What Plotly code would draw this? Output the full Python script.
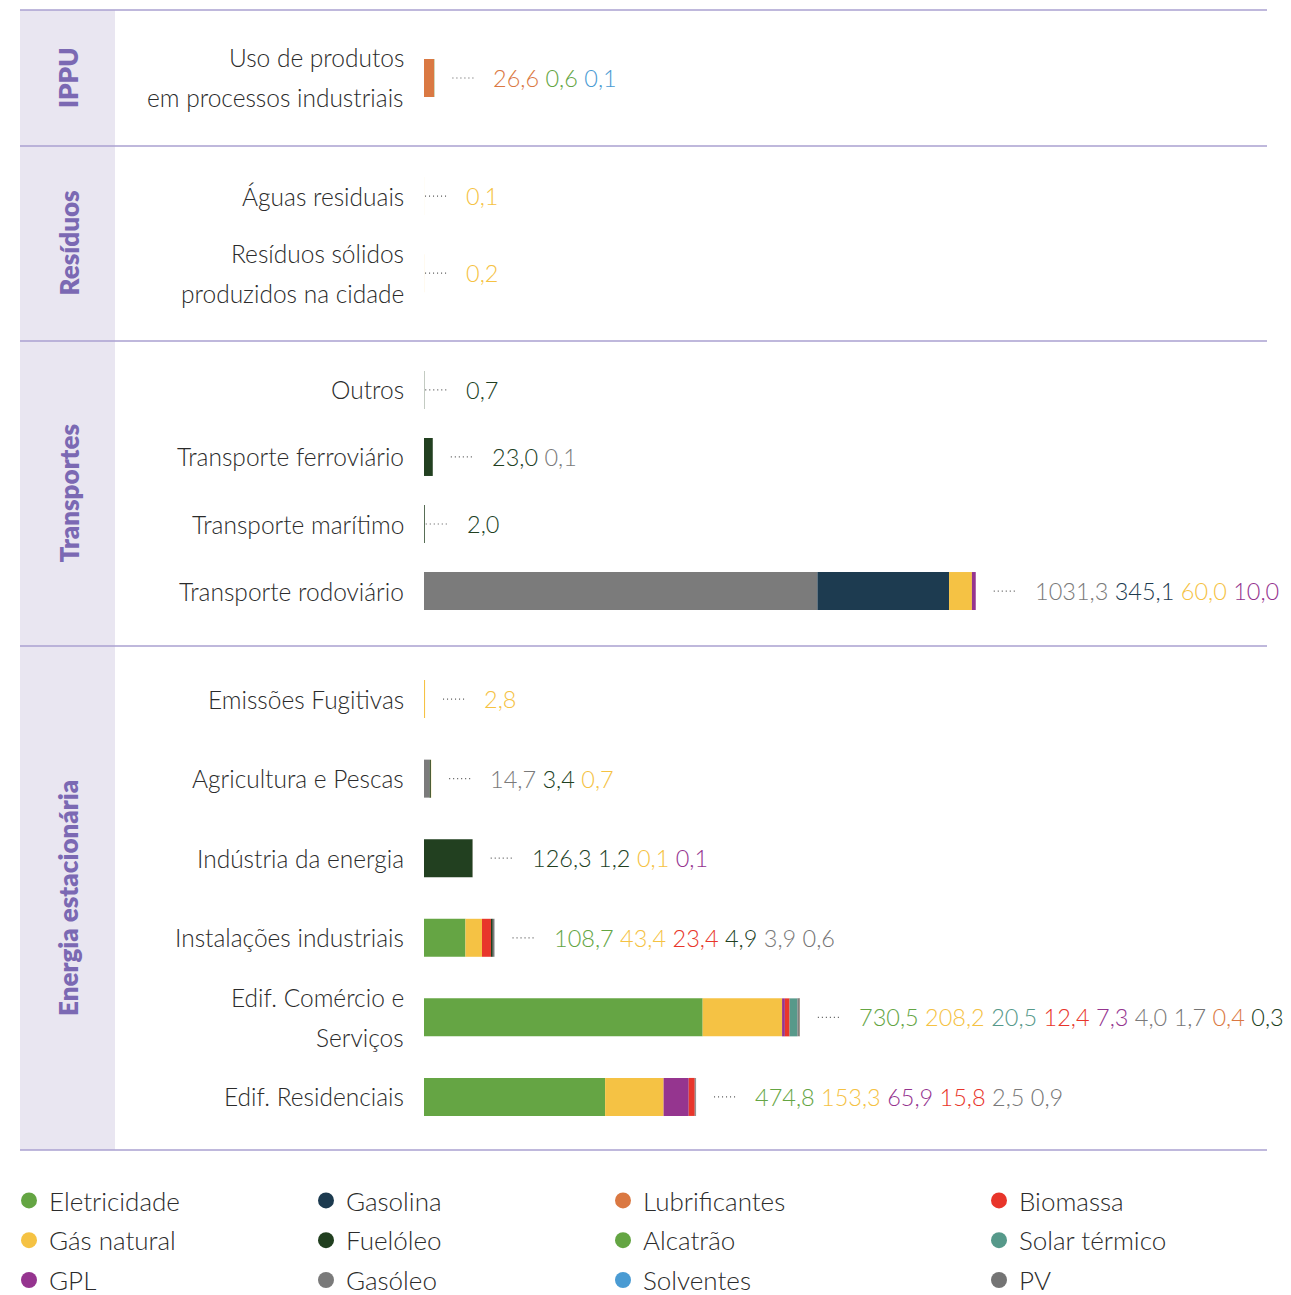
import plotly.graph_objects as go

# fuels / legend
FUEL_NAMES = ["Eletricidade", "Gás natural", "GPL",
              "Gasolina", "Fuelóleo", "Gasóleo",
              "Lubrificantes", "Alcatrão", "Solventes",
              "Biomassa", "Solar térmico", "PV"]
FUEL_COLORS = ["#64a543", "#f5c243", "#95348f",
               "#1c3a4f", "#213f1f", "#7a7a7a",
               "#da7842", "#64a543", "#4a9bd3",
               "#e8352a", "#56998a", "#747474"]

GROUPS = ["IPPU", "Resíduos", "Transportes", "Energia estacionária"]

IPPU_ROWS = ["Uso de produtos<br>em processos industriais"]
IPPU_VALUES = [[26.6, 0.6, 0.1]]
IPPU_FUELS = [["Lubrificantes", "Alcatrão", "Solventes"]]

RESIDUOS_ROWS = ["Águas residuais", "Resíduos sólidos<br>produzidos na cidade"]
RESIDUOS_VALUES = [[0.1], [0.2]]
RESIDUOS_FUELS = [["Gás natural"], ["Gás natural"]]

TRANSPORTES_ROWS = ["Outros", "Transporte ferroviário", "Transporte marítimo",
                    "Transporte rodoviário"]
TRANSPORTES_VALUES = [[0.7], [23.0, 0.1], [2.0], [1031.3, 345.1, 60.0, 10.0]]
TRANSPORTES_FUELS = [["Fuelóleo"], ["Fuelóleo", "Gasóleo"], ["Fuelóleo"],
                     ["Gasóleo", "Gasolina", "Gás natural", "GPL"]]

# values listed in stacking order of the bar
ENERGIA_ROWS = ["Emissões Fugitivas", "Agricultura e Pescas", "Indústria da energia",
                "Instalações industriais", "Edif. Comércio e<br>Serviços",
                "Edif. Residenciais"]
ENERGIA_VALUES = [[2.8],
                  [14.7, 3.4, 0.7],
                  [126.3, 1.2, 0.1, 0.1],
                  [108.7, 43.4, 23.4, 4.9, 3.9, 0.6],
                  [730.5, 208.2, 7.3, 12.4, 20.5, 4.0, 1.7, 0.4, 0.3],
                  [474.8, 153.3, 65.9, 15.8, 2.5, 0.9]]
ENERGIA_FUELS = [["Gás natural"],
                 ["Gasóleo", "Fuelóleo", "Gás natural"],
                 ["Fuelóleo", "Fuelóleo", "Gás natural", "GPL"],
                 ["Eletricidade", "Gás natural", "Biomassa", "Fuelóleo", "Gasóleo", "PV"],
                 ["Eletricidade", "Gás natural", "GPL", "Biomassa", "Solar térmico",
                  "Gasóleo", "PV", "Lubrificantes", "Fuelóleo"],
                 ["Eletricidade", "Gás natural", "GPL", "Biomassa", "Gasóleo", "PV"]]

group_data = [
    (IPPU_ROWS, IPPU_VALUES, IPPU_FUELS),
    (RESIDUOS_ROWS, RESIDUOS_VALUES, RESIDUOS_FUELS),
    (TRANSPORTES_ROWS, TRANSPORTES_VALUES, TRANSPORTES_FUELS),
    (ENERGIA_ROWS, ENERGIA_VALUES, ENERGIA_FUELS),
]
color_of = dict(zip(FUEL_NAMES, FUEL_COLORS))

# layout constants, in page pixels (page body has an 8px margin)
OFF = 8
W, H = 1291 - OFF, 1295 - OFF
BOUNDS = [10, 146, 341, 646, 1150]
PADS = [(0.5, 0.5), (0.65, 0.88), (0.73, 0.82), (0.667, 0.667)]
X0_PX = 424
X_MAX = 2294
BAR_PX = 38
FONT = "Lato"
TXT = "#2b2b2b"
PURPLE = "#7b69b3"

x_range = X_MAX * (1291 - X0_PX - OFF) / (1291 - X0_PX)
px_per_unit = (W - (X0_PX - OFF)) / x_range


def px(p):
    return (p - OFF) / W


def py(p):
    return 1 - (p - OFF) / H


def fmt(v):
    return f"{v:.1f}".replace(".", ",")


def bar_rgba(hx):
    # a hair below full opacity so sub-pixel segments are rounded away, not widened
    r, g, b = (int(hx[i:i + 2], 16) for i in (1, 3, 5))
    return f"rgba({r},{g},{b},0.995)"


fig = go.Figure()
annotations = []
shapes = []
layout_axes = {}

for g, (rows, values, fuels) in enumerate(group_data):
    sfx = "" if g == 0 else str(g + 1)
    xref, yref = "x" + sfx, "y" + sfx
    pt, pb = PADS[g]
    n = len(rows)
    dom_px = BOUNDS[g + 1] - BOUNDS[g]
    bar_w = BAR_PX / (dom_px / (n - 1 + pt + pb))

    layout_axes["xaxis" + sfx] = dict(domain=[px(X0_PX), 1], range=[0, x_range],
                                      visible=False, fixedrange=True)
    layout_axes["yaxis" + sfx] = dict(domain=[py(BOUNDS[g + 1]), py(BOUNDS[g])],
                                      type="category", categoryorder="array",
                                      categoryarray=rows, range=[n - 1 + pb, -pt],
                                      visible=False, fixedrange=True)

    for i, row in enumerate(rows):
        base = 0
        for v, f in zip(values[i], fuels[i]):
            fig.add_trace(go.Bar(x=[v], y=[row], base=[base], orientation="h",
                                 width=bar_w,
                                 marker=dict(color=bar_rgba(color_of[f]), line=dict(width=0)),
                                 xaxis=xref, yaxis=yref, showlegend=False,
                                 hovertemplate=f"{f}: {fmt(v)}<extra></extra>"))
            base += v
        total = base
        # leader starts right at the axis when the bar is too thin to show
        gap = 18 if total * px_per_unit >= 1 else 1

        # value labels, largest first
        order = sorted(range(len(values[i])), key=lambda k: -values[i][k])
        spans = " ".join(f'<span style="color:{color_of[fuels[i][k]]}">{fmt(values[i][k])}</span>'
                         for k in order)
        annotations.append(dict(x=total, y=row, xref=xref, yref=yref, text=spans,
                                xanchor="left", yanchor="middle", xshift=gap + 39,
                                showarrow=False,
                                font=dict(family=FONT, size=23.5, weight=300)))

        # dotted leader
        shapes.append(dict(type="line", xref=xref, yref=yref, xsizemode="pixel", xanchor=total,
                           x0=gap, x1=gap + 24, y0=i, y1=i,
                           line=dict(color="#555555", width=1.2, dash="1px,3px")))

        # category label, line by line
        lines = row.split("<br>")
        for j, ln in enumerate(lines):
            annotations.append(dict(x=px(406), y=row, xref="paper", yref=yref, text=ln,
                                    xanchor="right", yanchor="middle",
                                    yshift=((len(lines) - 1) / 2 - j) * 40, showarrow=False,
                                    font=dict(family=FONT, size=24.5, weight=300, color=TXT)))

    # group title in the lavender band
    annotations.append(dict(x=px(68), y=0.5, xref="paper", yref=yref + " domain",
                            text=GROUPS[g], textangle=-90, showarrow=False,
                            xanchor="center", yanchor="middle",
                            font=dict(family=FONT, size=26, weight=800, color=PURPLE)))

# band and separators
shapes.append(dict(type="rect", xref="paper", yref="paper", x0=px(20), x1=px(115),
                   y0=py(BOUNDS[-1]), y1=py(BOUNDS[0]), fillcolor="#e9e6f1",
                   line=dict(width=0), layer="below"))
for b in BOUNDS:
    shapes.append(dict(type="line", xref="paper", yref="paper", x0=px(20), x1=px(1267),
                       y0=py(b), y1=py(b), line=dict(color="#aaa1d0", width=1.5)))

# legend: four columns
LEG_SYM = [31, 328, 625, 1001]
legends = {}
for k, (name, col) in enumerate(zip(FUEL_NAMES, FUEL_COLORS)):
    c = k // 3
    lname = "legend" if c == 0 else f"legend{c + 1}"
    fig.add_trace(go.Scatter(x=[None], y=[None], mode="markers", name=name,
                             marker=dict(size=18, color=col), legend=lname,
                             legendgroup=name, showlegend=True))
for c, sx in enumerate(LEG_SYM):
    lname = "legend" if c == 0 else f"legend{c + 1}"
    legends[lname] = dict(x=px(sx - 22), y=py(1177), xanchor="left", yanchor="top",
                          orientation="v", tracegroupgap=3, itemwidth=30,
                          bgcolor="rgba(0,0,0,0)",
                          font=dict(family=FONT, size=26, weight=300, color=TXT))

fig.update_layout(
    width=W, height=H,
    margin=dict(l=0, r=0, t=0, b=0, autoexpand=False),
    paper_bgcolor="white", plot_bgcolor="white",
    barmode="overlay",
    annotations=annotations, shapes=shapes,
    **layout_axes, **legends,
)

fig.write_html("out.html")
